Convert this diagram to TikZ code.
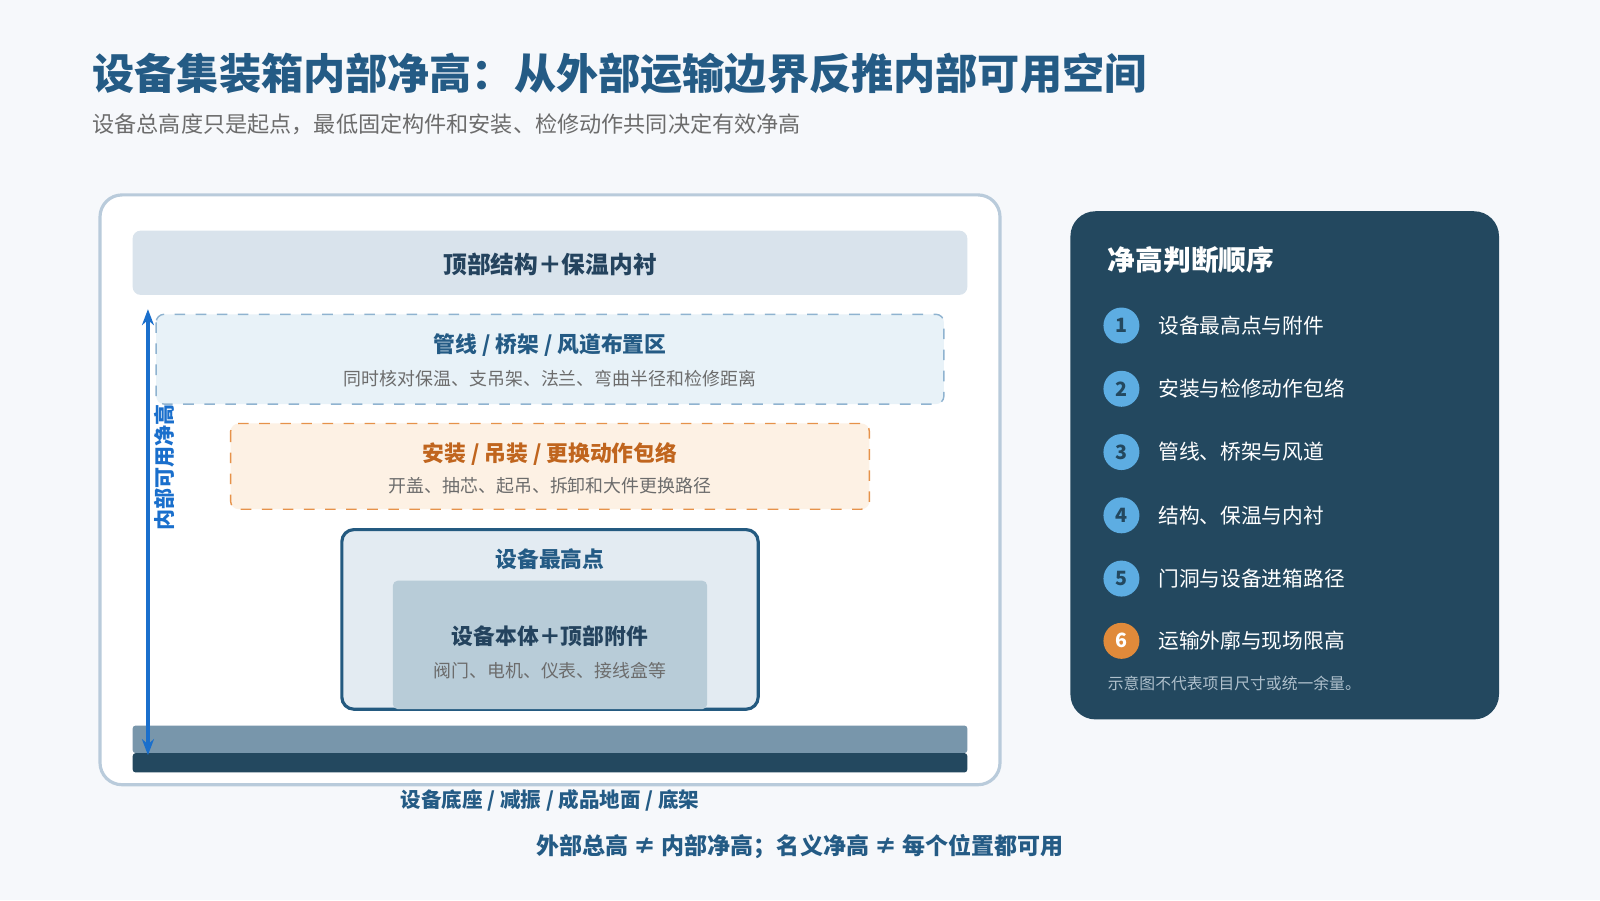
\documentclass[tikz,border=0pt]{standalone}
\usepackage{fontspec}
\setmainfont{Noto Sans CJK SC}
\usetikzlibrary{positioning,arrows.meta}
\definecolor{pagebg}{HTML}{F6F8FB}
\definecolor{titleblue}{HTML}{245B85}
\definecolor{framegray}{HTML}{B9CBDB}
\definecolor{topband}{HTML}{D9E3EC}
\definecolor{darktext}{HTML}{24435E}
\definecolor{pipefill}{HTML}{E8F2F8}
\definecolor{pipeline}{HTML}{8FB3D0}
\definecolor{liftfill}{HTML}{FDF1E4}
\definecolor{liftline}{HTML}{E6924A}
\definecolor{lifttext}{HTML}{C0651E}
\definecolor{equipfill}{HTML}{E3EBF2}
\definecolor{equipline}{HTML}{245A80}
\definecolor{bodyfill}{HTML}{B8CCD8}
\definecolor{plate}{HTML}{7896AB}
\definecolor{navy}{HTML}{23485F}
\definecolor{arrowblue}{HTML}{1A6FCC}
\definecolor{stepblue}{HTML}{5DADE2}
\definecolor{steporange}{HTML}{E08A3A}
\definecolor{notegray}{HTML}{AFC0CC}
\tikzset{
  head/.style={font=\bfseries\fontsize{6.2pt}{7pt}\selectfont},
  sub/.style={font=\fontsize{5.1pt}{6pt}\selectfont, text=gray!85!black},
  stepdot/.style={circle, minimum size=0.36cm, inner sep=0pt, fill=stepblue, text=navy, font=\bfseries\fontsize{5.6pt}{6pt}\selectfont},
  steptext/.style={right, text=white, font=\fontsize{5.9pt}{7pt}\selectfont},
}
\begin{document}
\begin{tikzpicture}[x=0.010204cm, y=-0.010204cm]
  \fill[pagebg] (0,0) rectangle (1568,882);
  \useasboundingbox (0,0) rectangle (1568,882);

  % title
  \node[right, inner sep=0pt, text=titleblue, font=\bfseries\fontsize{12pt}{13pt}\selectfont] (title) at (90,72) {设备集装箱内部净高：从外部运输边界反推内部可用空间};
  \node[right, inner sep=0pt, text=gray!85!black, font=\fontsize{6.3pt}{7pt}\selectfont] (subtitle) at (90,122) {设备总高度只是起点，最低固定构件和安装、检修动作共同决定有效净高};

  % container section
  \draw[framegray, line width=0.9pt, fill=white, rounded corners=0.22cm] (98,191) rectangle (980,769);
  \fill[topband, rounded corners=0.08cm] (130,226) rectangle (948,289);
  \node[head, text=darktext, font=\bfseries\fontsize{6.75pt}{7pt}\selectfont] (roof) at (539,259) {顶部结构＋保温内衬};

  \draw[pipeline, dashed, line width=0.4pt, fill=pipefill, rounded corners=0.08cm] (153,308) rectangle (925,396);
  \node[head, text=titleblue] (pipes) at (539,338) {管线 / 桥架 / 风道布置区};
  \node[sub] (pipesnote) at (539,371) {同时核对保温、支吊架、法兰、弯曲半径和检修距离};

  \draw[liftline, dashed, line width=0.4pt, fill=liftfill, rounded corners=0.08cm] (226,415) rectangle (852,499);
  \node[head, text=lifttext] (lift) at (539,445) {安装 / 吊装 / 更换动作包络};
  \node[sub] (liftnote) at (539,476) {开盖、抽芯、起吊、拆卸和大件更换路径};

  \draw[equipline, line width=0.9pt, fill=equipfill, rounded corners=0.12cm] (335,519) rectangle (743,695);
  \node[head, text=titleblue] (peak) at (539,548) {设备最高点};
  \fill[bodyfill, rounded corners=0.05cm] (385,569) rectangle (693,695);
  \node[head, text=darktext] (body) at (539,623) {设备本体＋顶部附件};
  \node[sub] (bodynote) at (539,657) {阀门、电机、仪表、接线盒等};

  \fill[plate, rounded corners=0.03cm] (130,711) rectangle (948,738);
  \fill[navy, rounded corners=0.03cm] (130,738) rectangle (948,757);
  \node[text=titleblue, font=\bfseries\fontsize{5.85pt}{6pt}\selectfont] (base) at (539,784) {设备底座 / 减振 / 成品地面 / 底架};

  % clear height arrow
  \coordinate (floor) at (145,740);
  \coordinate (ceiling) at (145,303);
  \draw[arrowblue, line width=1.1pt, {Stealth[length=0.16cm]}-{Stealth[length=0.16cm]}] (floor) -- (ceiling);
  \node[rotate=90, text=arrowblue, font=\bfseries\fontsize{6pt}{6pt}\selectfont] (clear) at (161,458) {内部可用净高};

  \node[text=titleblue, font=\bfseries\fontsize{6.55pt}{7pt}\selectfont] (summary) at (784,830) {外部总高 ≠ 内部净高；名义净高 ≠ 每个位置都可用};

  % order panel
  \fill[navy, rounded corners=0.25cm] (1049,207) rectangle (1469,705);
  \node[right, inner sep=0pt, text=white, font=\bfseries\fontsize{7.9pt}{8pt}\selectfont] (order) at (1085,255) {净高判断顺序};
  \foreach \n/\txt in {1/设备最高点与附件, 2/安装与检修动作包络, 3/管线、桥架与风道, 4/结构、保温与内衬, 5/门洞与设备进箱路径} {
    \node[stepdot] (s\n) at (1099,{319+62*(\n-1)}) {\n};
    \node[steptext] (t\n) at (1123,{319+62*(\n-1)}) {\txt};
  }
  \node[stepdot, fill=steporange, text=white] (s6) at (1099,628) {6};
  \node[steptext] (t6) at (1123,628) {运输外廓与现场限高};
  \node[right, inner sep=0pt, text=notegray, font=\fontsize{4.5pt}{5pt}\selectfont] (note) at (1085,670) {示意图不代表项目尺寸或统一余量。};
\end{tikzpicture}
\end{document}
